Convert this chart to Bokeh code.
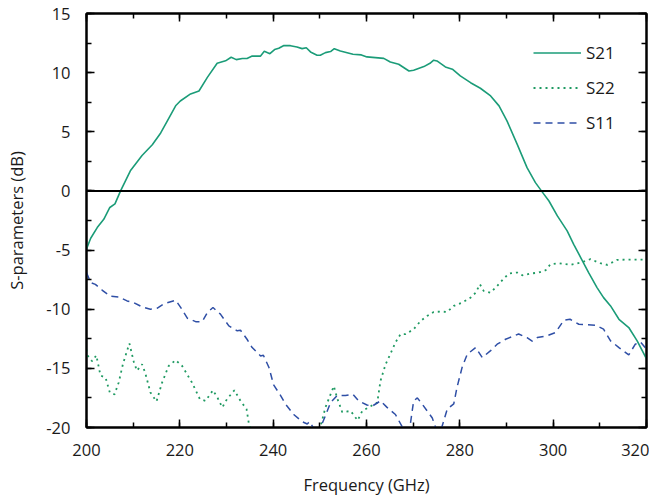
from bokeh.plotting import figure
from bokeh.models import (LinearAxis, Span, Legend, LegendItem, SingleIntervalTicker,
                          Range1d, CustomJSTickFormatter)
from bokeh.embed import file_html
from bokeh.resources import INLINE

# ---- data ----
s21_f = [200.0, 200.9, 202.3, 203.7, 205.0, 206.1, 207.3, 209.4, 211.9, 214.1, 215.9, 217.3,
         219.1, 220.1, 222.3, 224.1, 225.9, 228.0, 229.8, 231.0, 232.1, 233.4, 234.4, 235.5,
         237.3, 238.1, 239.3, 240.3, 241.2, 242.3, 243.7, 245.1, 246.2, 247.1, 248.0, 249.4,
         250.1, 251.2, 252.3, 253.1, 254.4, 257.1, 258.9, 260.1, 263.7, 265.1, 266.9, 269.1,
         270.1, 272.3, 273.6, 274.4, 275.1, 276.9, 278.4, 280.1, 282.3, 284.4, 286.6, 288.4,
         290.1, 292.3, 294.4, 296.2, 297.6, 299.1, 300.9, 303.0, 304.4, 305.9, 307.6, 309.4,
         310.8, 312.3, 314.1, 316.2, 318.0, 320.0]
s21_db = [-4.9, -4.0, -3.1, -2.4, -1.4, -1.1, 0.0, 1.7, 3.0, 3.9, 4.9, 5.9,
          7.2, 7.6, 8.2, 8.45, 9.6, 10.8, 11.0, 11.3, 11.1, 11.2, 11.2, 11.4,
          11.4, 11.8, 11.6, 11.95, 12.06, 12.3, 12.28, 12.17, 12.03, 12.1, 11.75, 11.47,
          11.47, 11.69, 11.78, 12.03, 11.83, 11.55, 11.5, 11.33, 11.21, 10.9, 10.71, 10.14,
          10.2, 10.51, 10.79, 11.05, 10.99, 10.48, 10.29, 9.72, 9.15, 8.68, 8.03, 7.19,
          5.92, 3.94, 1.97, 0.7, -0.06, -0.85, -2.11, -3.38, -4.51, -5.63, -6.9, -8.17,
          -9.02, -9.72, -10.85, -11.55, -12.68, -14.2]

s22_f = [200.0, 200.3, 201.2, 202.1, 203.0, 204.1, 205.0, 206.0, 206.9, 207.8, 208.7, 209.2,
         210.1, 210.8, 211.9, 212.6, 213.7, 215.0, 216.2, 217.6, 219.1, 220.5, 222.6, 224.3,
         225.5, 227.1, 228.1, 229.1, 230.1, 231.7, 233.0, 234.3, 234.8, 236.5, 242.0, 248.0,
         250.1, 251.2, 252.3, 253.0, 253.7, 254.8, 256.6, 258.1, 259.1, 260.9, 262.3, 263.0,
         264.1, 265.1, 266.2, 267.3, 268.4, 270.1, 271.6, 273.0, 274.4, 275.9, 277.3, 278.7,
         280.5, 282.3, 283.4, 284.3, 285.1, 286.6, 288.0, 289.4, 290.5, 292.3, 293.4, 295.1,
         296.9, 298.4, 299.4, 301.2, 303.7, 305.9, 308.0, 310.1, 311.6, 313.7, 316.6, 320.0]
s22_db = [-13.4, -13.95, -14.4, -13.9, -15.6, -15.8, -17.05, -17.2, -16.2, -14.65, -13.5, -12.9,
          -14.4, -15.2, -14.65, -15.4, -17.05, -17.8, -16.2, -14.8, -14.3, -14.8, -16.2, -17.6,
          -17.75, -16.85, -17.5, -18.3, -17.6, -16.85, -17.75, -18.45, -19.7, -21.5, -23.0, -21.5,
          -20.0, -18.3, -17.2, -16.5, -17.5, -18.7, -18.6, -19.4, -18.6, -18.2, -17.9, -16.06,
          -14.65, -13.8, -12.82, -12.1, -12.1, -11.69, -10.99, -10.57, -10.23, -10.2, -10.23, -9.72,
          -9.44, -9.02, -8.6, -7.89, -8.45, -8.6, -8.03, -7.41, -6.99, -6.9, -7.13, -6.99,
          -6.9, -6.7, -6.2, -6.11, -6.25, -6.06, -5.77, -6.11, -6.25, -5.83, -5.8, -5.8]

s11_f = [200.0, 200.9, 201.9, 203.4, 205.1, 206.9, 208.7, 210.1, 211.9, 213.7, 215.1, 216.6,
         219.1, 220.1, 221.6, 223.4, 224.8, 225.9, 227.1, 228.7, 230.5, 232.3, 233.0, 234.4,
         235.5, 237.3, 237.9, 239.1, 240.1, 241.6, 242.6, 244.4, 246.2, 247.3, 247.8, 249.5,
         251.2, 252.3, 253.7, 255.5, 257.1, 258.3, 260.1, 261.2, 263.0, 264.4, 266.2, 267.6,
         268.5, 269.4, 270.1, 270.9, 271.9, 273.0, 274.1, 274.8, 275.5, 276.2, 277.3, 278.7,
         279.4, 280.5, 281.6, 283.4, 284.8, 286.6, 288.0, 289.8, 292.6, 294.4, 295.5, 296.6,
         298.7, 300.5, 302.3, 303.6, 305.5, 309.1, 310.8, 312.3, 314.1, 316.2, 317.6, 318.7, 320.0]
s11_db = [-6.9, -7.75, -7.9, -8.4, -8.9, -8.96, -9.3, -9.44, -9.8, -10.0, -9.92, -9.53,
          -9.24, -9.8, -10.76, -11.05, -11.05, -10.28, -9.86, -10.42, -11.41, -11.83, -11.78, -12.54,
          -13.24, -13.95, -13.89, -14.93, -16.4, -17.3, -18.0, -18.9, -19.5, -19.7, -19.5, -20.6,
          -19.0, -17.9, -17.3, -17.3, -17.2, -17.75, -18.1, -18.2, -17.75, -18.3, -18.9, -19.9,
          -20.4, -19.7, -17.75, -17.5, -18.0, -18.6, -19.2, -20.0, -20.4, -19.9, -18.45, -18.0,
          -16.6, -14.9, -13.8, -13.24, -14.09, -13.5, -12.96, -12.54, -12.1, -12.4, -12.7, -12.4,
          -12.25, -11.97, -10.93, -10.85, -11.27, -11.35, -11.69, -12.68, -13.24, -13.86, -12.96, -12.76, -13.38]

x_ticks_interval = 20
y_ticks_interval = 5

FONT = "Open Sans"
TXT = "#1a1a1a"
C21 = "#1b9c78"
C22 = "#1f9a62"
C11 = "#2f4fa6"

p = figure(width=649, height=498, output_backend="svg", toolbar_location=None,
           x_range=Range1d(200, 320), y_range=Range1d(-20, 15),
           min_border_left=86, min_border_right=3, min_border_top=13, min_border_bottom=71)
p.grid.visible = False
p.outline_line_color = "black"
p.outline_line_width = 2
p.background_fill_color = "white"
p.border_fill_color = "white"

xt = SingleIntervalTicker(interval=x_ticks_interval, num_minor_ticks=2)
yt = SingleIntervalTicker(interval=y_ticks_interval, num_minor_ticks=2)


def style(ax, labels=True):
    ax.axis_line_color = "black"
    ax.axis_line_width = 2
    ax.major_tick_in = 8
    ax.major_tick_out = 0
    ax.minor_tick_in = 5
    ax.minor_tick_out = 0
    ax.major_tick_line_width = 1.5
    ax.minor_tick_line_width = 1.5
    ax.major_tick_line_color = "black"
    ax.minor_tick_line_color = "black"
    ax.major_label_text_font = FONT
    ax.major_label_text_color = TXT
    ax.axis_label_text_font = FONT
    ax.axis_label_text_color = TXT
    ax.axis_label_text_font_style = "normal"
    ax.major_label_text_font_size = "16.5px"
    ax.axis_label_text_font_size = "16.5px"
    if labels:
        ax.formatter = CustomJSTickFormatter(code="return tick.toFixed(0)")
    else:
        ax.formatter = CustomJSTickFormatter(code="return ''")
        ax.major_label_standoff = 0


p.xaxis.ticker = xt
p.yaxis.ticker = yt
style(p.xaxis[0])
style(p.yaxis[0])
p.xaxis.axis_label = "Frequency (GHz)"
p.yaxis.axis_label = "S-parameters (dB)"
p.xaxis.major_label_standoff = 16
p.yaxis.major_label_standoff = 16
p.xaxis.axis_label_standoff = 14
p.yaxis.axis_label_standoff = 15

top = LinearAxis(ticker=xt)
style(top, labels=False)
p.add_layout(top, "above")
right = LinearAxis(ticker=yt)
style(right, labels=False)
p.add_layout(right, "right")

p.add_layout(Span(location=0, dimension="width", line_color="black", line_width=2))

r21 = p.line(s21_f, s21_db, line_color=C21, line_width=1.6)
r22 = p.line(s22_f, s22_db, line_color=C22, line_width=1.8, line_dash="2 4")
r11 = p.line(s11_f, s11_db, line_color=C11, line_width=1.5, line_dash="7 5")

legend = Legend(items=[LegendItem(label="S21", renderers=[r21]),
                       LegendItem(label="S22", renderers=[r22]),
                       LegendItem(label="S11", renderers=[r11])],
                location=(447, 287), orientation="vertical")
legend.border_line_color = None
legend.background_fill_alpha = 0
legend.padding = 0
legend.margin = 0
legend.spacing = 0
legend.glyph_width = 48
legend.glyph_height = 35
legend.label_height = 35
legend.label_standoff = 5
legend.label_text_font = FONT
legend.label_text_font_size = "17px"
legend.label_text_color = TXT
p.add_layout(legend, "center")

open("out.html", "w").write(file_html(p, INLINE))
